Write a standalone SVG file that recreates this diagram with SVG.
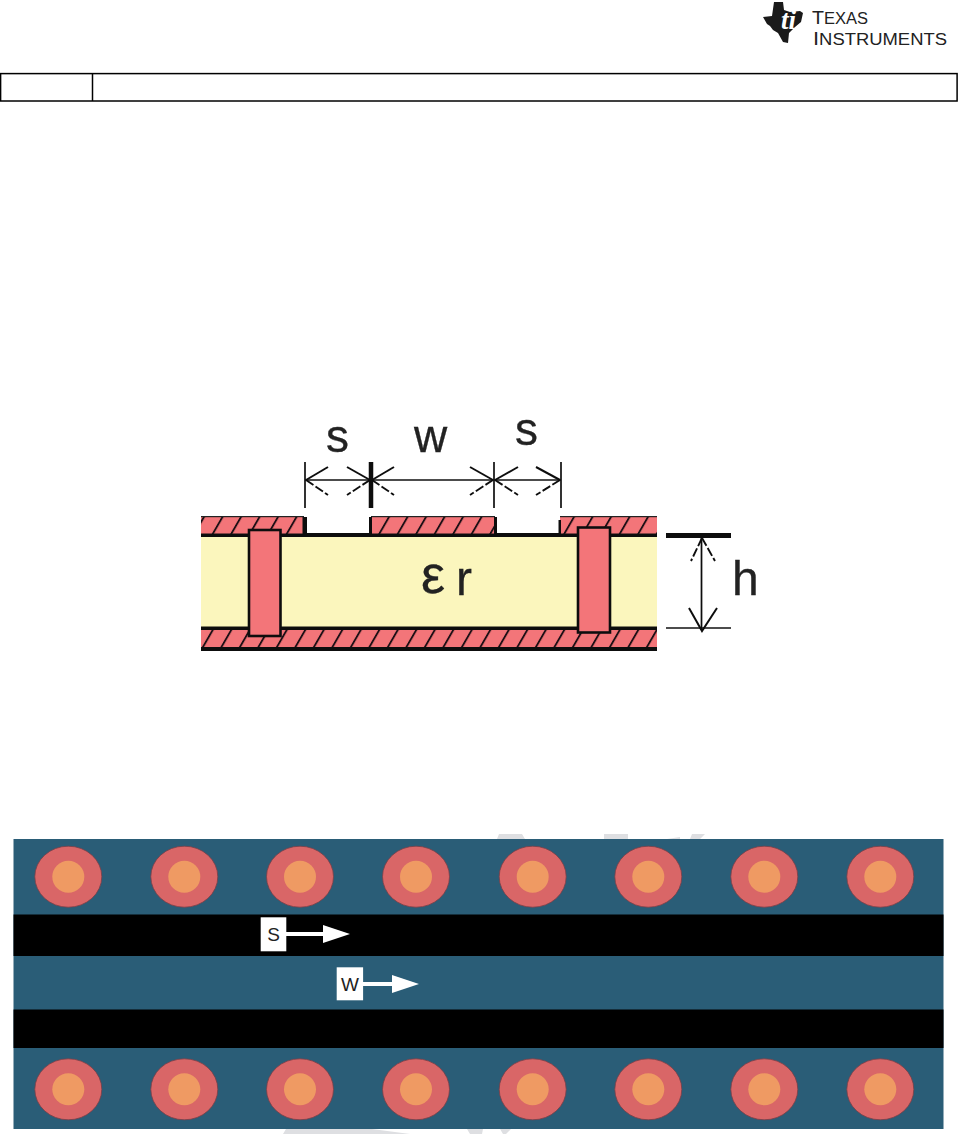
<svg xmlns="http://www.w3.org/2000/svg" width="958" height="1134" viewBox="0 0 958 1134">
<defs>
<style>
.t{font-family:"Liberation Sans",Arial,sans-serif;fill:#222}
.b{stroke:#222;stroke-width:.3}
.k{fill:none;stroke:#111;stroke-width:1.7}
.d{fill:none;stroke:#111;stroke-width:1.9;stroke-dasharray:9 2.5}
.e{fill:none;stroke:#111;stroke-width:2}
.c{fill:#d96667;stroke:#7a3f48;stroke-width:.8}
.i{fill:#ef9a63}
.w{fill:#fff}
</style>
<pattern id="hatch" width="18.5" height="20" patternUnits="userSpaceOnUse" patternTransform="translate(201 517) skewX(-30)">
<rect width="18.5" height="20" fill="#f37579"/>
<line x1="3" y1="0" x2="3" y2="20" stroke="#1c1012" stroke-width="2.2"/>
</pattern>
<filter id="soft" x="-5%" y="-5%" width="110%" height="110%"><feGaussianBlur stdDeviation=".6"/></filter>
<symbol id="via" overflow="visible"><ellipse class="c" cx="0" cy="0" rx="33.5" ry="30.5"/><circle class="i" cx="0" cy="0" r="16"/></symbol>
</defs>
<rect width="958" height="1134" fill="#fff"/>
<g id="logo">
<path d="M763 17 L772 16 L774 2 L783 2 L784 10 L790 12 L800 11 L803 13 L801 22 L795 27 L789 33 L788 43 L783 42 L778 33 L773 30 L770 26 L767 24 Z" fill="#1a1a1a"/>
<text x="781" y="29" font-family="Liberation Serif,serif" font-style="italic" font-weight="700" font-size="27" fill="#fff">ti</text>
<text class="t" x="812" y="24" font-size="19" textLength="56" lengthAdjust="spacingAndGlyphs">T<tspan font-size="16">EXAS</tspan></text>
<text class="t" x="813" y="45" font-size="19" textLength="134" lengthAdjust="spacingAndGlyphs">I<tspan font-size="16">NSTRUMENTS</tspan></text>
</g>
<g id="header" fill="none" stroke="#000" stroke-width="1.5">
<rect x="0.6" y="73.6" width="956.5" height="27.4"/>
<line x1="92.5" y1="73.6" x2="92.5" y2="101"/>
</g>
<g id="cross-section" filter="url(#soft)">
<rect x="201" y="537" width="456" height="90" fill="#fbf6bd"/>
<g id="ground-bottom"><rect x="201" y="629" width="456" height="18" fill="url(#hatch)"/><rect x="201" y="626.5" width="456" height="3.5" fill="#111"/><rect x="201" y="647" width="456" height="4" fill="#111"/></g>
<g id="plane-top"><rect x="201" y="533" width="456" height="4" fill="#111"/></g>
<g id="trace-left"><rect x="201" y="517" width="104" height="16.5" fill="url(#hatch)"/><rect x="201" y="516" width="103" height="1.2" fill="#222"/><rect x="302.5" y="517" width="4.5" height="18" fill="#111"/></g>
<g id="trace-center"><rect x="371" y="517" width="124" height="16.5" fill="url(#hatch)"/><rect x="371" y="516" width="124" height="1.2" fill="#222"/><rect x="369" y="517" width="3" height="18" fill="#111"/><rect x="494" y="517" width="3" height="18" fill="#111"/></g>
<g id="trace-right"><rect x="560" y="517" width="97" height="16.5" fill="url(#hatch)"/><rect x="560" y="516" width="97" height="1.2" fill="#222"/><rect x="558.5" y="520" width="2.5" height="15" fill="#111"/></g>
<rect id="via-left" x="249" y="530" width="31.5" height="106" fill="#f37579" stroke="#111" stroke-width="2.6"/>
<rect id="via-right" x="578" y="527.5" width="32" height="105" fill="#f37579" stroke="#111" stroke-width="2.6"/>
</g>
<g id="connectors" filter="url(#soft)">
<line class="k" x1="305" y1="462" x2="305" y2="508"/>
<line x1="371" y1="462" x2="371" y2="508" stroke="#111" stroke-width="4.5"/>
<line class="k" x1="494" y1="462" x2="494" y2="508"/>
<line class="k" x1="561" y1="462" x2="561" y2="508"/>
<line class="k" x1="305" y1="480" x2="561" y2="480"/>
<path class="e" d="M328 467 L306 480 M347 467 L370 480 M394 467 L372 480 M470 467 L493 480 M518 467 L495 480 M536 467 L560 480"/>
<path class="d" d="M306 480 L328 495 M370 480 L347 495 M372 480 L394 495 M493 480 L470 495 M495 480 L518 495 M560 480 L536 495"/>
<line x1="666" y1="535.5" x2="731" y2="535.5" stroke="#111" stroke-width="5"/>
<line class="k" x1="666" y1="628" x2="731" y2="628"/>
<line class="k" x1="701.5" y1="537" x2="701.5" y2="630"/>
<path class="d" d="M702 538 L691 561 M702 538 L715 561"/>
<path class="e" d="M689 608 L702 631 L717 608"/>
</g>
<g id="labels" filter="url(#soft)">
<text class="t b" x="326" y="452" font-size="46">s</text>
<text class="t b" x="414" y="452" font-size="46">w</text>
<text class="t b" x="515" y="445" font-size="46">s</text>
<text class="t b" x="732" y="595" font-size="48">h</text>
<text class="t b" x="421" y="593" font-size="54">ε</text>
<text class="t b" x="456" y="595" font-size="48">r</text>
</g>
<g id="watermark" fill="#dedfe2">
<path d="M497 839 L499 834 H522 L525 839 Z M604 839 V834 H628 V839 Z M667 839 L680 837 V839 Z M690 839 L692 834 H705 L700 839 Z"/>
<path d="M283 1134 L286 1129 H372 L410 1134 Z M467 1129 H483 L482 1134 H470 Z M500 1129 H511 L506 1134 H503 Z"/>
</g>
<g id="panel">
<rect x="13.5" y="839" width="930" height="290" fill="#2a5d77"/>
<rect x="13.5" y="914.5" width="930" height="41.5" fill="#000"/>
<rect x="13.5" y="1009.5" width="930" height="38.5" fill="#000"/>
</g>
<g id="vias-top">
<use href="#via" x="68.3" y="876.7"/><use href="#via" x="184.3" y="876.7"/><use href="#via" x="300" y="876.7"/><use href="#via" x="416" y="876.7"/><use href="#via" x="532.7" y="876.7"/><use href="#via" x="648.3" y="876.7"/><use href="#via" x="764.3" y="876.7"/><use href="#via" x="880.3" y="876.7"/>
</g>
<g id="vias-bottom">
<use href="#via" x="68.3" y="1089.3"/><use href="#via" x="184.3" y="1089.3"/><use href="#via" x="300" y="1089.3"/><use href="#via" x="416" y="1089.3"/><use href="#via" x="532.7" y="1089.3"/><use href="#via" x="648.3" y="1089.3"/><use href="#via" x="764.3" y="1089.3"/><use href="#via" x="880.3" y="1089.3"/>
</g>
<g id="node-s">
<rect class="w" x="260.7" y="917.3" width="25.6" height="34"/>
<text class="t" x="273.5" y="941" font-size="19" text-anchor="middle">S</text>
<path class="w" d="M286 932 H323 V925 L350 934 L323 943 V936 H286 Z"/>
</g>
<g id="node-w">
<rect class="w" x="336.7" y="967.3" width="26.4" height="33"/>
<text class="t" x="349.9" y="991" font-size="19" text-anchor="middle">W</text>
<path class="w" d="M363 982 H392 V975 L419 984 L392 993 V986 H363 Z"/>
</g>
</svg>
